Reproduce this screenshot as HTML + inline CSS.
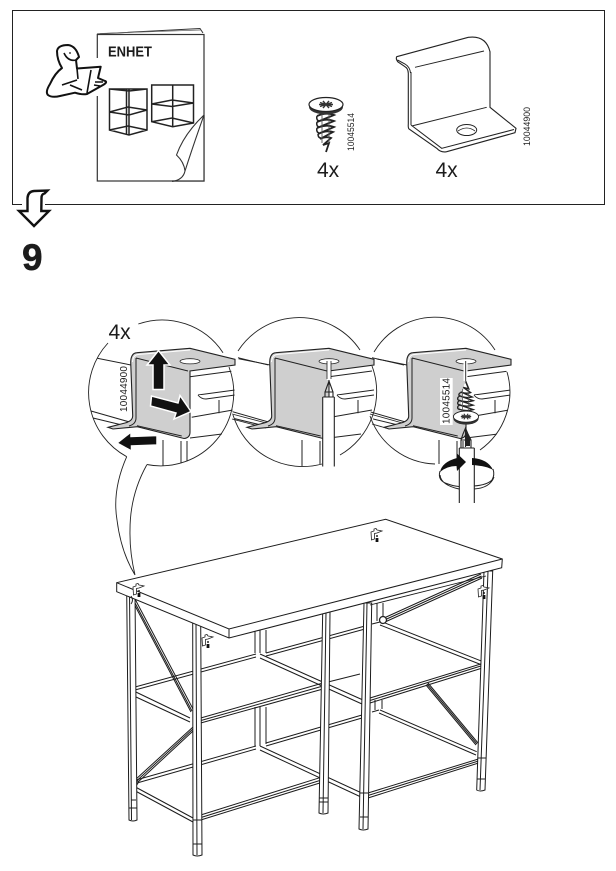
<!DOCTYPE html>
<html><head><meta charset="utf-8"><style>
html,body{margin:0;padding:0;background:#fff}
svg{display:block}
text{font-family:"Liberation Sans",sans-serif;fill:#1c1c1c}
</style></head><body>
<svg xmlns="http://www.w3.org/2000/svg" width="616" height="871" viewBox="0 0 616 871">
<defs>
<clipPath id="c1"><circle cx="161.7" cy="393" r="73"/></clipPath>
<clipPath id="c2"><circle cx="303" cy="393" r="73"/></clipPath>
<clipPath id="c3"><circle cx="439" cy="393" r="71"/></clipPath>
<g id="bg" fill="none" stroke="#222" stroke-width="1">
<path d="M190 376.700L233 371M198 395L235 390M191.700 417.300L233 410M219 400V413.300M190 438L222 434M163 440V467M181 441V467M187 441V467"/>
<path d="M198 395Q201 399 206 399L235 395" fill="#fff"/>
<path d="M96 358L131 365M91 411L133 423M93 418L122 425"/>
</g>
<g id="br">
<path d="M130.700 362Q131 353 137 352.700L190 348.300L235 359.300V365L190 371V432Q190 438 184 438.500L137.300 426.700L113 429L108 427.300L125 423Q132.700 421 132.700 416Z" fill="#cfcfcf" stroke="#222" stroke-width="1.100"/>
<path d="M136 358L188 371M136 358V418Q136 424 129 426M137 425.700L181.700 436" fill="none" stroke="#222" stroke-width="1"/>
<path d="M132.500 362Q133 355 138 354.500L190 350" fill="none" stroke="#fff" stroke-width="1"/>
<ellipse cx="190" cy="361.300" rx="10" ry="2.600" fill="#fff" stroke="#222" stroke-width=".8"/>
</g>
<g id="threads">
<path d="M-7 7L-2 44L0 47L2 44L7 7Z" fill="#fff"/>
<path d="M-9 11Q0 7 8 10L-9 17Q0 13 8 16L-9 23Q0 19 8 22L-8 29Q0 25 7 27L-6 34Q0 31 5 33L-3 40L3 38L0 47" fill="none" stroke="#222" stroke-width="1.800"/>
<path d="M-9 11Q-10 15 -7 16M-9 17Q-10 21 -7 22M-9 23Q-10 27 -7 28M-8 29Q-8 33 -5 33" fill="none" stroke="#222" stroke-width="1.500"/>
<path d="M-4 8V38M3 8V38" stroke="#555" stroke-width=".9" fill="none"/>
</g>
<g id="head">
<ellipse cx="0" cy="2" rx="17" ry="7.500" fill="#333"/>
<ellipse cx="0" cy="-.5" rx="17" ry="7" fill="#fff" stroke="#222" stroke-width="1.200"/>
<path d="M-6 -2.500L6 1.500M6 -2.500L-6 1.500M-3 -4L3 3M3 -4L-3 3M-7 -.5H7" stroke="#333" stroke-width="1.400"/>
</g>
<g id="tiny" fill="#fff" stroke="#222" stroke-width=".8">
<path d="M0 4L3 3V1L5 0.500L6 2L9 2.500L11 3L6 5L3.500 5.500V11L0.500 12Z"/>
<path d="M6 7V9" stroke-width="1.500"/>
<path d="M6 10V14" stroke="#111" stroke-width="2.800"/>
</g>
</defs>

<!-- top box -->
<rect x="12.500" y="10.500" width="592" height="194" fill="none" stroke="#222" stroke-width="1"/>

<!-- booklet -->
<path d="M97 34L200 28.500L203 33" fill="none" stroke="#333" stroke-width="1"/>
<path d="M100 33.500L201 30" fill="none" stroke="#666" stroke-width=".7"/>
<rect x="97.300" y="34.500" width="106.700" height="146.500" fill="#fff" stroke="#333" stroke-width="1.200"/>
<text x="108" y="56.500" font-size="14.500" font-weight="bold" textLength="44" lengthAdjust="spacingAndGlyphs">ENHET</text>
<g fill="none" stroke="#222" stroke-width="1.500">
<path d="M109.500 89H147V130L129 135L109.500 130ZM109.500 89L129 91M147 89L129 91M129 89V135M126.500 89V135M109.500 112L129 115L147 110L128 107ZM109.500 130L128 126L147 130"/>
<path d="M151.700 85H193.500V123L172.700 126.700L151.700 121.700ZM172.700 85V126.700M151.700 104L172 106.500L193.500 103L172 100ZM151.700 121.700L172 118L193.500 123"/>
</g>
<path d="M204 115Q184 134 176.500 155Q184 162 185 171Q183 180 172 181.500H204Z" fill="#fff"/>
<path d="M204 115Q184 134 176.500 155Q184 162 185 171Q183 180 172 181.500M204 115Q193 146 185 171" fill="none" stroke="#333" stroke-width="1.100"/>
<path d="M172 181H204V115" fill="none" stroke="#333" stroke-width="1.200"/>
<!-- reader icon -->
<path d="M92 58H100V96H92Z" fill="#fff"/>
<path d="M79 57Q76 46 68 45Q58 45 57 51Q57 60 62 68Q55 73 50 84Q45 92 48 95Q52 98 60 96L75 92.700Q82 95 87 94L103 85Q108 82 105 81L98 78L100.700 66.700L77 68.500L76 60Z" fill="#fff" stroke="#111" stroke-width="2" stroke-linejoin="round"/>
<path d="M77 68.500L78 79M87 93L91 70M62 85L77 80M70 85L82 90M95 82L103 82M94 85L100 86M64 53Q68 62 77 60" fill="none" stroke="#111" stroke-width="1.600"/>
<circle cx="70" cy="53" r=".9" fill="#111"/>

<!-- arrow and step -->
<path d="M22 203H45V214H22Z" fill="#fff"/>
<path d="M27.500 198Q28 191.500 34 191L47.500 190.500L44.500 193.500Q41.500 194 41.500 198L41.300 211H49L34 226L19 211H27.500Z" fill="#fff" stroke="#111" stroke-width="2.400" stroke-linejoin="miter"/>
<text x="22" y="270" font-size="37" font-weight="bold" stroke="#1c1c1c" stroke-width=".5">9</text>

<!-- screw top -->
<use href="#threads" x="326" y="105"/>
<use href="#head" x="326" y="105"/>
<text transform="translate(354,151) rotate(-90)" font-size="9.500" textLength="38" lengthAdjust="spacingAndGlyphs">10045514</text>
<text x="317" y="177" font-size="21">4x</text>

<!-- bracket top -->
<path d="M396.700 56.700L468.300 37.300Q486 35 490 51.700V107.300L516 128.300L515 132.700L446.700 151.700Q441 153 436.700 148.300L409 129Q408 128 408.300 124V73.300Q408 68 405 66.700L398 62Q395.500 59 396.700 56.700Z" fill="#fff" stroke="#222" stroke-width="1.100"/>
<path d="M415 67.300L484 51M411.700 126L486.700 107.300M411 125L441.700 148.300L514 129.500M411 72V125M397.500 60L405 64Q410 67 410.500 73" fill="none" stroke="#222" stroke-width="1"/>
<ellipse cx="466.700" cy="130" rx="10" ry="5.500" fill="#fff" stroke="#222" stroke-width="1"/>
<path d="M458 131Q467 125 475 131" fill="none" stroke="#222" stroke-width=".8"/>
<text transform="translate(530,146) rotate(-90)" font-size="9.500" textLength="39" lengthAdjust="spacingAndGlyphs">10044900</text>
<text x="435.500" y="177" font-size="21">4x</text>

<!-- callout 1 -->
<g clip-path="url(#c1)"><use href="#bg"/></g>
<use href="#br"/>
<path d="M138.300 324A73 73 0 0 1 223 352.700M229 367A73 73 0 0 1 146.700 464.500M126.700 456.700A73 73 0 0 1 108 343" fill="none" stroke="#222" stroke-width=".9"/>
<path d="M126.700 456.700Q112 490 117 520Q121 552 135 575M146.700 465Q130 495 130 530Q129.500 552 135 575" fill="none" stroke="#222" stroke-width=".9"/>
<text x="108.500" y="339" font-size="21">4x</text>
<text transform="translate(127,412) rotate(-90)" font-size="10" textLength="46" lengthAdjust="spacing">10044900</text>
<!-- arrows -->
<path d="M153 389.500V365H147L158.500 350.500L170 365H164V389.500Z" fill="#111" stroke="#fff" stroke-width="1.500"/>
<path d="M151.500 396L178 403L180 395.500L191 411.500L174 419L176 413L150.500 406Z" fill="#111" stroke="#fff" stroke-width="1.500"/>
<path d="M157 435.500L131 436.500V432L117 443L131.500 451V446L157 445Z" fill="#111" stroke="#fff" stroke-width="1.500"/>

<!-- connecting lines between circles -->
<path d="M238 357.700L268 365M232 414L270 424M232 419L266 428" fill="none" stroke="#222" stroke-width=".9"/>
<path d="M372 357.700L404 365M370 414L406 424M372 424L386 428" fill="none" stroke="#222" stroke-width=".9"/>

<!-- callout 2 -->
<g clip-path="url(#c2)"><use href="#bg" x="139"/></g>
<use href="#br" x="139"/>
<path d="M238 351A73 73 0 0 1 360 350M372 366A73 73 0 0 1 340 455M322 464A73 73 0 0 1 233 415" fill="none" stroke="#222" stroke-width=".9"/>
<path d="M322.700 397H334.300V470H322.700Z" fill="#fff"/>
<path d="M322.700 397V466.500M334.300 397V466.500M322.700 397H334.300M325 397V392L329 381L333 392V397M325 392H333" fill="none" stroke="#222" stroke-width="1.100"/>
<path d="M327 360H331V380H327Z" fill="#fff"/>
<path d="M327 361V379M331 361V379" stroke="#222" stroke-width=".8"/>

<!-- callout 3 -->
<g clip-path="url(#c3)"><use href="#bg" x="276"/></g>
<use href="#br" x="276"/>
<path d="M374 352A71 71 0 0 1 495 350M507 372A71 71 0 0 1 480 450M435 464A71 71 0 0 1 370 416" fill="none" stroke="#222" stroke-width=".9"/>
<path d="M463.500 361V381H467.500V361Z" fill="#fff"/>
<path d="M465.700 361V381" stroke="#222" stroke-width=".9"/>
<rect x="440" y="378" width="12.700" height="47" fill="#fff"/>
<text transform="translate(449.500,424) rotate(-90)" font-size="10" textLength="46" lengthAdjust="spacing">10045514</text>
<g transform="translate(466,417) scale(.9,-.74)"><use href="#threads"/></g>
<g transform="translate(466,417) scale(.74,.8)"><use href="#head"/></g>
<!-- driver -->
<path d="M459.300 448H474.300V503H459.300Z" fill="#fff"/>
<path d="M459.300 448V503M474.300 448V503M459.300 448H474.300M461 448V440L463 434L465.500 428L468 434L471 440V448M461 440H471M465.500 428V447" fill="none" stroke="#222" stroke-width="1.100"/>
<path d="M465.500 430L470 438V446H466Z" fill="#222"/>
<!-- rotate arrow -->
<path d="M440 471Q437 481 448 484Q453 486 459 486.500M440 475Q441 485 459 489M474 486Q487 485 492 480Q495 475 493 469M474 489Q490 488 494 477" fill="none" stroke="#222" stroke-width="1"/>
<path d="M440 472Q442 462 457 458L456.500 453L466 462L457 471L456.500 466Q447 466 440 472Z" fill="#111"/>
<path d="M472 458Q488 459 493 470Q487 466 472 465Z" fill="#111"/>

<!-- TABLE -->
<g fill="none" stroke="#1c1c1c" stroke-width="1">
<!-- back uprights -->
<path d="M255 630V653M260 630V653M266 630V653M255 707V746M260 707V746M266 707V744M377 603V621M383 603V621M375 700V710M382 700V709"/>
<!-- mid shelf back -->
<path d="M135 687L256 654M135 690L256 657M266 653L365 626M266 656L365 629M372 624L380 622"/>
<!-- bottom shelf back -->
<path d="M136 780L256 746M137 783L256 749M266 743L362 715M266 746L362 718M372 712L379 710"/>
<!-- side rails -->
<path d="M381.700 621.700L483 661.700M380 625L482 665M380 710L476.700 751.700M379 713L476 755"/>
<path d="M260 654L363 700M260 658L362 704M260 746L361.700 793M260 750L361 797"/>
<path d="M131.700 690L190 718M131.700 695L190 722M131.700 785L193 818M131.700 789L193 822"/>
<!-- front rails -->
<path d="M200.700 718L323 683M200.700 723L323 689M201 720.500L323 686M328 682L360 674"/>
<path d="M370 698L484 663M370 703L484 667.500M370 700.500L484 665"/>
<path d="M200.700 815L323 776.700M200.700 820L323 782M201 817.500L323 779.500"/>
<path d="M368 793L481.700 758M368 798L481.700 762M368 795.500L481.700 760"/>
</g>
<!-- braces -->
<g fill="none" stroke="#1c1c1c" stroke-width="1">
<path d="M132 600L191 712M135 599L193 709M134 601L192 711"/>
<path d="M193 727L135 780M193 731L137 783M193 729L136 781.500"/>
<path d="M384 618L481 574M385 622L482 578M384.500 620L481.500 576"/>
<path d="M426 685L476 745M428 683L478 743M427 684L477 744"/>
</g>
<circle cx="134.500" cy="782" r="3.500" fill="#fff" stroke="#222" stroke-width="1.300"/>
<circle cx="383" cy="620" r="3.500" fill="#fff" stroke="#222" stroke-width="1.300"/>
<circle cx="132" cy="600" r="3" fill="#fff" stroke="#222" stroke-width="1.300"/>
<!-- legs -->
<g fill="#fff" stroke="#1c1c1c" stroke-width="1">
<path d="M126.700 592L135 592L137 820Q133 822 129 820Z"/>
<path d="M192.700 622L200.700 622L202 855Q197 857 193 855Z"/>
<path d="M322.700 612L330 612L328 813Q323 815 319 813Z"/>
<path d="M364 603L371.700 603L368 829Q363 831 359 829Z"/>
<path d="M484 571L492.700 571L485 790Q480 792 476.700 790Z"/>
</g>
<g fill="none" stroke="#1c1c1c" stroke-width="1">
<path d="M129.500 592L131.500 820M131 800H136M129 808L137 808"/>
<path d="M196 622L197 855M193 820H202M193 844L202 844"/>
<path d="M326 612L323 813M319.500 798L328 798M319.500 802H328"/>
<path d="M367 603L363 829M360 817L368 817M360 793H368"/>
<path d="M488 571L480 790M477 779H485M478 758H486"/>
</g>
<!-- table top -->
<path d="M116.700 582.700L385.700 519.300L502.300 559L501.700 567.700L229 638L116.700 591.700Z" fill="#fff" stroke="#1c1c1c" stroke-width="1"/>
<path d="M116.700 582.700L229 629L502.300 559M229 629V638" fill="none" stroke="#1c1c1c" stroke-width="1"/>
<path d="M370 605L486 576" fill="none" stroke="#1c1c1c" stroke-width=".9"/>
<!-- small hardware -->
<use href="#tiny" x="133" y="583"/>
<path d="M131 596Q134 600 131 604" stroke="#222" fill="none"/>
<use href="#tiny" x="202" y="634"/>
<use href="#tiny" x="371" y="528"/>
<use href="#tiny" x="478" y="585"/>
</svg>
</body></html>
